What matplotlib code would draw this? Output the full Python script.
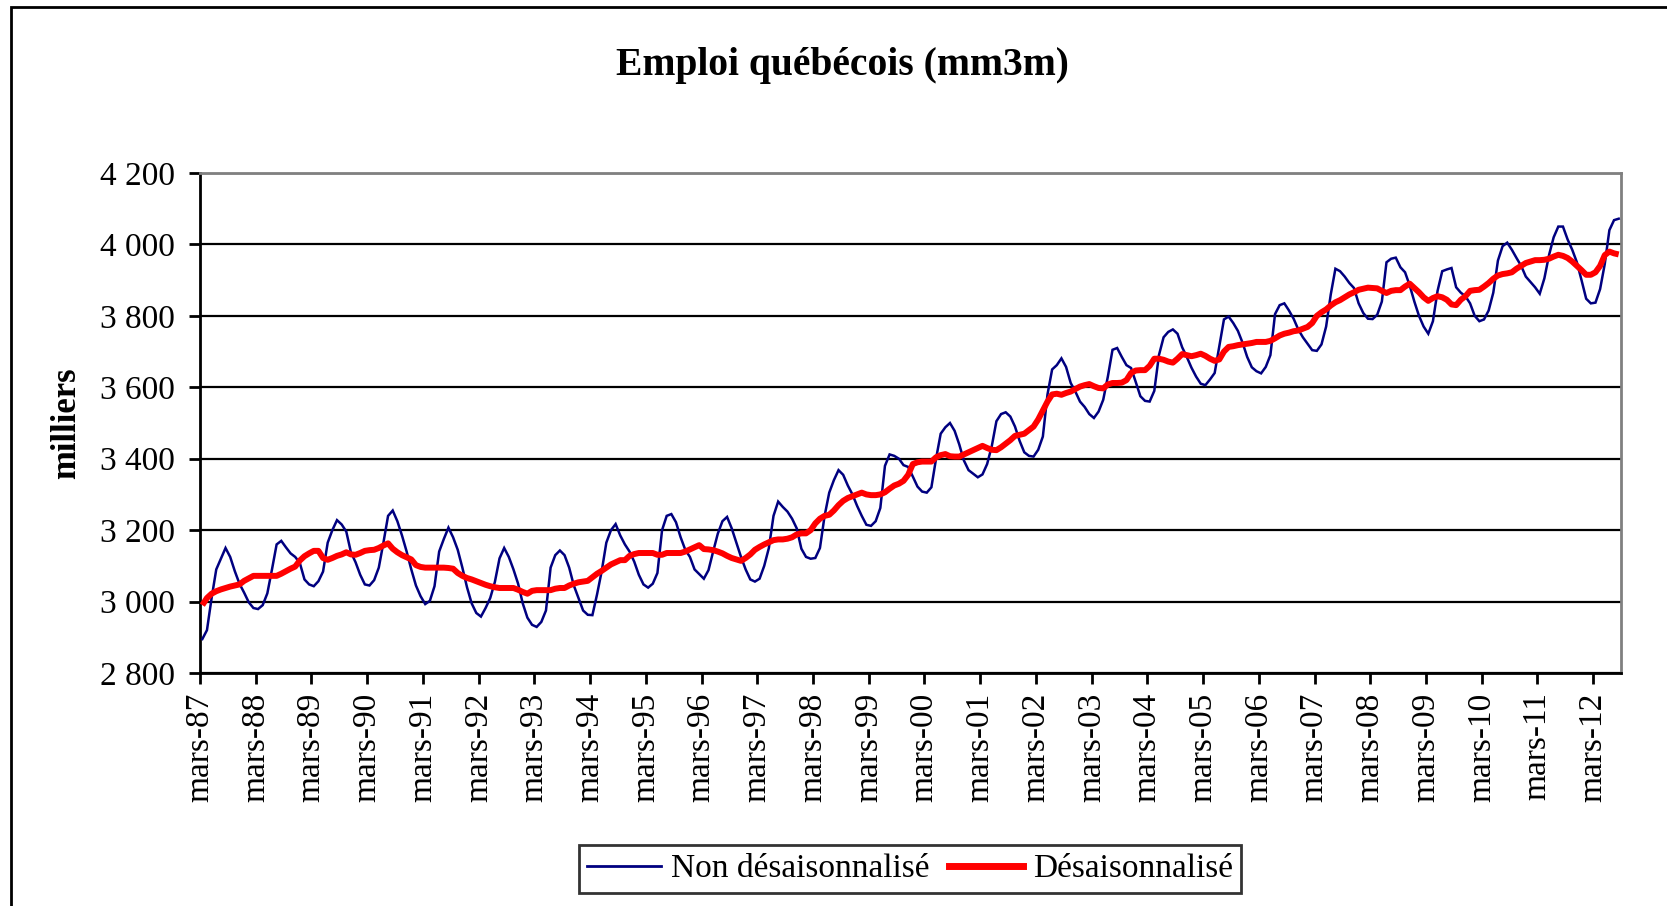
import matplotlib
matplotlib.use("Agg")
import matplotlib.pyplot as plt
from matplotlib.patches import Rectangle
from matplotlib.lines import Line2D

# ---------------- data (monthly, mars 1987 -> août 2012) ----------------
non_desaisonnalise = [
    2895, 2920, 3010, 3090, 3120, 3150, 3125, 3085, 3050, 3025, 2998, 2982,
    2979, 2990, 3023, 3090, 3160, 3170, 3152, 3135, 3125, 3108, 3062, 3048,
    3043, 3057, 3084, 3165, 3200, 3228, 3216, 3196, 3138, 3110, 3075, 3048,
    3045, 3060, 3095, 3165, 3240, 3255, 3225, 3185, 3140, 3090, 3045, 3015,
    2993, 3002, 3043, 3140, 3175, 3207, 3180, 3145, 3095, 3040, 2995, 2968,
    2958, 2982, 3010, 3055, 3121, 3150, 3125, 3090, 3050, 2995, 2955, 2935,
    2929, 2943, 2975, 3095, 3130, 3143, 3130, 3095, 3045, 3010, 2975, 2963,
    2962, 3020, 3085, 3165, 3200, 3217, 3185, 3160, 3140, 3112, 3075, 3048,
    3039, 3050, 3080, 3200, 3240, 3245, 3222, 3180, 3145, 3125, 3090, 3077,
    3064, 3088, 3140, 3190, 3225, 3237, 3205, 3165, 3125, 3090, 3062, 3056,
    3064, 3100, 3150, 3240, 3280, 3265, 3252, 3232, 3205, 3148, 3125, 3120,
    3122, 3150, 3240, 3305, 3340, 3368, 3355, 3325, 3300, 3268, 3240, 3215,
    3212, 3225, 3262, 3380, 3412, 3408, 3400, 3382, 3377, 3350, 3322, 3308,
    3305, 3320, 3400, 3470, 3488, 3500, 3478, 3440, 3395, 3368, 3358, 3348,
    3356, 3385, 3435, 3505, 3525, 3530, 3518, 3490, 3450, 3418, 3408, 3406,
    3425, 3462, 3580, 3650, 3662, 3681, 3657, 3612, 3588, 3560, 3545, 3525,
    3514, 3532, 3565, 3630, 3705, 3710, 3685, 3662, 3654, 3615, 3575, 3562,
    3560, 3590, 3690, 3740, 3755, 3762, 3750, 3712, 3685, 3655, 3630, 3610,
    3606, 3622, 3640, 3715, 3790, 3798, 3780, 3758, 3725, 3685, 3656, 3645,
    3639, 3657, 3690, 3805, 3830, 3835, 3815, 3792, 3762, 3740, 3722, 3704,
    3702, 3720, 3770, 3860, 3932, 3925, 3910, 3892, 3878, 3835, 3808, 3792,
    3791, 3803, 3840, 3950, 3960, 3963, 3936, 3922, 3885, 3840, 3800, 3770,
    3750, 3785, 3870, 3925, 3930, 3934, 3880, 3865, 3855, 3835, 3800, 3785,
    3790, 3815, 3865, 3955, 3995, 4005, 3985, 3962, 3940, 3910, 3895, 3880,
    3862, 3905, 3970, 4020, 4050, 4050, 4014, 3985, 3950, 3900, 3848, 3835,
    3837, 3875, 3945, 4040, 4068, 4072,
]

desaisonnalise = [
    2990, 3010, 3022, 3029, 3034, 3038, 3042, 3045, 3048, 3058, 3065, 3072,
    3072, 3072, 3072, 3072, 3072, 3078, 3085, 3092, 3098, 3115, 3127, 3135,
    3142, 3142, 3122, 3117, 3122, 3128, 3132, 3138, 3132, 3131, 3136, 3142,
    3144, 3145, 3150, 3157, 3163, 3148, 3138, 3130, 3124, 3118, 3102, 3097,
    3095, 3095, 3095, 3095, 3095, 3094, 3092, 3080, 3072, 3066, 3062, 3057,
    3052, 3047, 3043, 3040, 3038, 3038, 3038, 3038, 3033, 3027, 3022, 3030,
    3032, 3032, 3032, 3032, 3036, 3038, 3038, 3045, 3050, 3054, 3056, 3058,
    3068, 3078, 3086, 3095, 3104, 3110, 3116, 3116, 3128, 3133, 3136, 3136,
    3136, 3136, 3131, 3131, 3136, 3136, 3136, 3136, 3140, 3146, 3152, 3158,
    3147, 3146, 3144, 3140, 3135, 3128, 3122, 3118, 3114, 3122, 3132, 3145,
    3153, 3160, 3166, 3172, 3174, 3174, 3176, 3180, 3188, 3191, 3191, 3200,
    3219, 3232, 3240, 3243, 3255, 3270, 3282, 3290, 3295, 3300, 3305, 3300,
    3298, 3298, 3300, 3306, 3316, 3325, 3330, 3338, 3355, 3385, 3390, 3392,
    3392, 3392, 3404, 3410, 3413, 3407, 3406, 3406, 3412, 3418, 3424, 3430,
    3436, 3430, 3425, 3424, 3432, 3442, 3452, 3464, 3467, 3470, 3480, 3490,
    3510, 3535, 3560, 3580, 3582, 3579, 3584, 3588, 3595, 3602, 3606, 3609,
    3603, 3598, 3597, 3608, 3612, 3612, 3613, 3620, 3640, 3647, 3648, 3648,
    3660, 3680, 3680, 3677, 3672, 3669, 3680, 3693, 3690, 3687, 3690, 3694,
    3688, 3680, 3674, 3678, 3700, 3713, 3715, 3718, 3720, 3722, 3724, 3727,
    3727, 3727, 3730, 3737, 3745, 3750, 3753, 3757, 3759, 3764, 3769, 3780,
    3800, 3810, 3818, 3829, 3838, 3844, 3852, 3860, 3866, 3873, 3876, 3879,
    3878, 3877, 3870, 3864, 3870, 3872, 3872, 3882, 3890, 3878, 3866, 3852,
    3842, 3850, 3855, 3852, 3845, 3832, 3830, 3845, 3855, 3870, 3872, 3873,
    3882, 3892, 3904, 3913, 3917, 3919, 3922, 3932, 3940, 3948, 3952, 3956,
    3956, 3957, 3960, 3966, 3971, 3968, 3962, 3952, 3940, 3928, 3915, 3915,
    3922, 3940, 3970, 3980, 3975, 3972,
]

x_labels = ["mars-%02d" % (y % 100) for y in range(1987, 2013)]
y_values = [2800, 3000, 3200, 3400, 3600, 3800, 4000, 4200]
y_labels = ["2 800", "3 000", "3 200", "3 400", "3 600", "3 800", "4 000", "4 200"]

title = "Emploi québécois (mm3m)"
y_title = "milliers"
series_names = ["Non désaisonnalisé", "Désaisonnalisé"]

# ---------------- figure ----------------
W, H = 1667, 906
fig = plt.figure(figsize=(W / 100, H / 100), dpi=100)
plt.rcParams["font.family"] = ["Liberation Serif", "DejaVu Serif"]

# outer chart frame (extends past right / bottom edges)
fig.patches.append(Rectangle((11 / W, -0.05), 1.2, 1 - 7 / H + 0.05,
                             transform=fig.transFigure, fill=False,
                             edgecolor="black", linewidth=2.0))

L, R, T, B = 200, 1621, 173, 673
ax = fig.add_axes([L / W, 1 - B / H, (R - L) / W, (B - T) / H])

n = len(non_desaisonnalise)
x = list(range(n))
ax.plot(x, non_desaisonnalise, color="#000080", linewidth=1.8, zorder=3,
        solid_joinstyle="miter")
ax.plot(x, desaisonnalise, color="#ff0000", linewidth=4.3, zorder=4,
        solid_capstyle="butt")

ax.set_xlim(-0.5, n - 0.5)
ax.set_ylim(y_values[0], y_values[-1])

ax.set_yticks(y_values)
ax.set_yticklabels(y_labels, fontsize=24)
ax.set_xticks([-0.5 + 12 * k for k in range(len(x_labels))])
ax.set_xticklabels(x_labels, rotation=90, fontsize=24)

ax.yaxis.grid(True, color="black", linewidth=1.6, zorder=1)
ax.set_axisbelow(True)
ax.tick_params(axis="y", direction="out", length=8, width=2, pad=10)
ax.tick_params(axis="x", direction="out", length=8, width=2, pad=6)

for s in ["left", "bottom"]:
    ax.spines[s].set_color("black")
    ax.spines[s].set_linewidth(2)
for s in ["top", "right"]:
    ax.spines[s].set_color("#808080")
    ax.spines[s].set_linewidth(2)

ax.set_ylabel(y_title, fontsize=25, fontweight="bold", labelpad=12)

fig.text(842 / W, 1 - 65 / H, title, fontsize=28.5, fontweight="bold",
         ha="center", va="center")

handles = [Line2D([], [], color="#000080", linewidth=2.0),
           Line2D([], [], color="#ff0000", linewidth=5.0)]
leg = fig.legend(handles, series_names, loc="center",
                 bbox_to_anchor=(910 / W, 1 - 869 / H), ncol=2,
                 fontsize=24, frameon=True, fancybox=False,
                 handlelength=2.2, handletextpad=0.3, columnspacing=0.6,
                 borderpad=0.25)
leg.get_frame().set_edgecolor("black")
leg.get_frame().set_linewidth(2)

fig.savefig("out.png", dpi=100)
